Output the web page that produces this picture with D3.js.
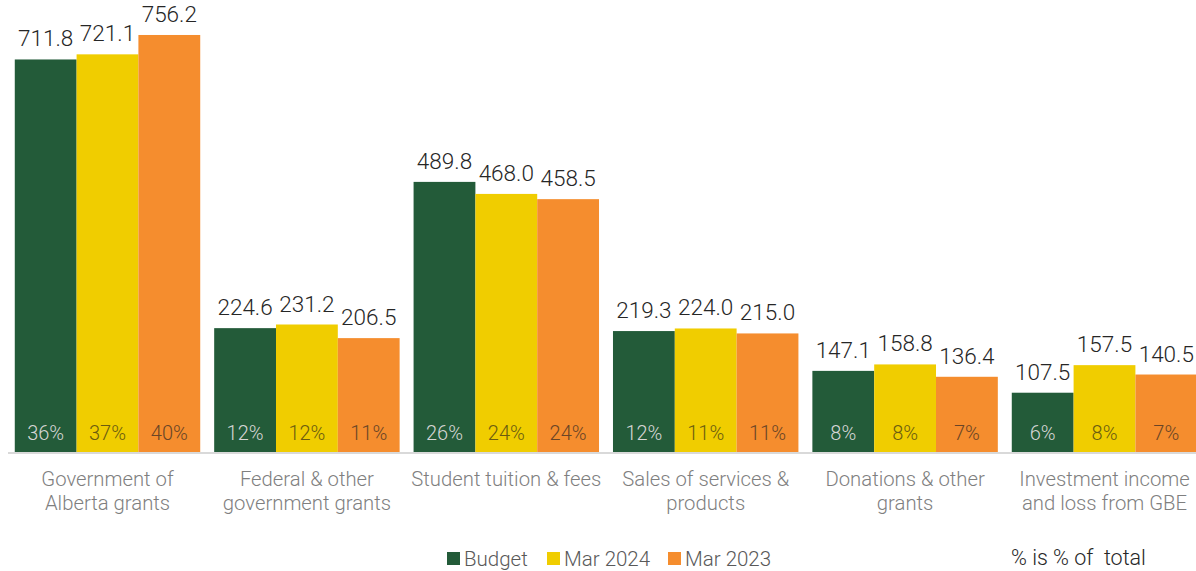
<!DOCTYPE html>
<html>
<head>
<meta charset="utf-8">
<script src="https://cdn.jsdelivr.net/npm/d3@7"></script>
<style>
  html, body { margin: 0; padding: 0; background: #fff; }
  svg { display: block; font-family: Roboto, "Open Sans", sans-serif; font-weight: 300; }
</style>
</head>
<body>
<div id="chart"></div>
<script>
// revenue by source, $ millions
var categories = [
  ["Government of", "Alberta grants"],
  ["Federal & other", "government grants"],
  ["Student tuition & fees"],
  ["Sales of services &", "products"],
  ["Donations & other", "grants"],
  ["Investment income", "and loss from GBE"]
];
var seriesNames = ["Budget", "Mar 2024", "Mar 2023"];
var budget  = [711.8, 224.6, 489.8, 219.3, 147.1, 107.5];
var mar2024 = [721.1, 231.2, 468.0, 224.0, 158.8, 157.5];
var mar2023 = [756.2, 206.5, 458.5, 215.0, 136.4, 140.5];
// share of total, %
var pctBudget  = [36, 12, 26, 12, 8, 6];
var pct2024    = [37, 12, 24, 11, 8, 8];
var pct2023    = [40, 11, 24, 11, 7, 7];

var width = 1196, height = 571;
var colors = ["#235b39", "#f0cd00", "#f58d2e"];
var pctColors = ["#d6d6d6", "#6b5c10", "#6a4526"];

var values = [budget, mar2024, mar2023];
var pcts = [pctBudget, pct2024, pct2023];

var svg = d3.select("#chart").append("svg")
  .attr("width", width)
  .attr("height", height);

var baseline = 452;

var x = d3.scaleBand()
  .domain(d3.range(categories.length))
  .range([7.8, 1204.2])
  .paddingInner(0.07)
  .paddingOuter(0.035);

var xs = d3.scaleBand()
  .domain(d3.range(seriesNames.length))
  .range([0, x.bandwidth()]);

var y = d3.scaleLinear()
  .domain([0, 820])
  .range([baseline, baseline - 452.2]);

// bars
var groups = svg.append("g").selectAll("g")
  .data(categories)
  .enter().append("g")
    .attr("transform", function(d, i) { return "translate(" + x(i) + ",0)"; });

seriesNames.forEach(function(name, s) {
  groups.append("rect")
    .attr("x", xs(s))
    .attr("width", xs.bandwidth())
    .attr("y", function(d, i) { return y(values[s][i]); })
    .attr("height", function(d, i) { return baseline - y(values[s][i]); })
    .attr("fill", colors[s]);

  // value labels above bars
  groups.append("text")
    .attr("x", xs(s) + xs.bandwidth() / 2)
    .attr("y", function(d, i) { return y(values[s][i]) - 13; })
    .attr("text-anchor", "middle")
    .attr("font-size", 22.5)
    .attr("fill", "#262626")
    .text(function(d, i) { return values[s][i].toFixed(1); });

  // percent labels inside bars
  groups.append("text")
    .attr("x", xs(s) + xs.bandwidth() / 2)
    .attr("y", baseline - 12)
    .attr("text-anchor", "middle")
    .attr("font-size", 20)
    .attr("fill", pctColors[s])
    .text(function(d, i) { return pcts[s][i] + "%"; });
});

// axis line
svg.append("line")
  .attr("x1", 8).attr("x2", width)
  .attr("y1", baseline + 1).attr("y2", baseline + 1)
  .attr("stroke", "#d9d9d9")
  .attr("stroke-width", 2);

// category labels
var catLabels = svg.append("g").selectAll("text")
  .data(categories)
  .enter().append("text")
    .attr("text-anchor", "middle")
    .attr("font-size", 20.3)
    .attr("fill", "#7f7f7f")
    .attr("transform", function(d, i) {
      return "translate(" + (x(i) + x.bandwidth() / 2) + "," + (baseline + 34) + ")";
    });

catLabels.selectAll("tspan")
  .data(function(d) { return d; })
  .enter().append("tspan")
    .attr("x", 0)
    .attr("dy", function(d, i) { return i === 0 ? 0 : 23.5; })
    .text(function(d) { return d; });

// legend
var legendX = [447, 547, 668];
var legend = svg.append("g").selectAll("g")
  .data(seriesNames)
  .enter().append("g")
    .attr("transform", function(d, i) { return "translate(" + legendX[i] + ",552)"; });

legend.append("rect")
  .attr("width", 13)
  .attr("height", 13)
  .attr("fill", function(d, i) { return colors[i]; });

legend.append("text")
  .attr("x", 17)
  .attr("y", 14)
  .attr("font-size", 20.5)
  .attr("fill", "#595959")
  .text(function(d) { return d; });

svg.append("text")
  .attr("x", 1011)
  .attr("y", 565)
  .attr("font-size", 21.5)
  .attr("fill", "#262626")
  .attr("xml:space", "preserve")
  .text("% is % of  total");
</script>
</body>
</html>
